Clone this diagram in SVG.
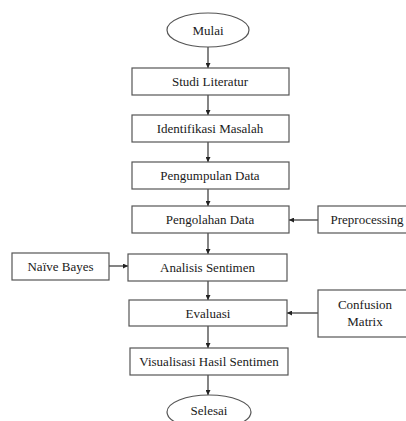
<svg xmlns="http://www.w3.org/2000/svg" width="406" height="421" viewBox="0 0 406 421">
<defs>
<marker id="ah" viewBox="0 0 10 10" refX="10" refY="5" markerWidth="5" markerHeight="5" orient="auto" markerUnits="userSpaceOnUse">
<path d="M0,0 L10,5 L0,10 z" fill="#222"/>
</marker>
<style>
.n{fill:#fff;stroke:#555;stroke-width:1.2}
.t{font-size:13px;fill:#1a1a1a;text-anchor:middle;dominant-baseline:central}
.c{stroke:#333;stroke-width:1.2;fill:none;marker-end:url(#ah)}
</style>
</defs>
<rect width="406" height="421" fill="#fff"/>
<g id="connectors">
<line class="c" x1="208" y1="47" x2="208" y2="68"/>
<line class="c" x1="208" y1="95" x2="208" y2="115"/>
<line class="c" x1="208" y1="142" x2="208" y2="162"/>
<line class="c" x1="208" y1="189" x2="208" y2="206"/>
<line class="c" x1="208" y1="233" x2="208" y2="254"/>
<line class="c" x1="208" y1="281" x2="208" y2="300"/>
<line class="c" x1="208" y1="326" x2="208" y2="348"/>
<line class="c" x1="208" y1="375" x2="208" y2="395"/>
<line class="c" x1="318" y1="220" x2="289" y2="220"/>
<line class="c" x1="109" y1="266" x2="128" y2="266"/>
<line class="c" x1="318" y1="313" x2="287" y2="313"/>
</g>
<g font-family="Liberation Serif, DejaVu Serif, serif">
<g id="mulai"><ellipse class="n" cx="208" cy="30" rx="41" ry="17"/><text class="t" x="208" y="30">Mulai</text></g>
<g id="studi"><rect class="n" x="132" y="68" width="157" height="27"/><text class="t" x="210" y="81.5">Studi Literatur</text></g>
<g id="identifikasi"><rect class="n" x="132" y="115" width="157" height="27"/><text class="t" x="210" y="128.5">Identifikasi Masalah</text></g>
<g id="pengumpulan"><rect class="n" x="132" y="162" width="157" height="27"/><text class="t" x="210" y="175.5">Pengumpulan Data</text></g>
<g id="pengolahan"><rect class="n" x="132" y="206" width="157" height="27"/><text class="t" x="210" y="219.5">Pengolahan Data</text></g>
<g id="preprocessing"><rect class="n" x="318" y="206" width="98" height="27"/><text class="t" x="367" y="219.5">Preprocessing</text></g>
<g id="naivebayes"><rect class="n" x="12" y="253" width="97" height="27"/><text class="t" x="60.5" y="266.5">Naïve Bayes</text></g>
<g id="analisis"><rect class="n" x="128" y="254" width="159" height="27"/><text class="t" x="207.5" y="267.5">Analisis Sentimen</text></g>
<g id="evaluasi"><rect class="n" x="129" y="300" width="158" height="26"/><text class="t" x="208" y="313">Evaluasi</text></g>
<g id="confusion"><rect class="n" x="318" y="290" width="98" height="47"/><text class="t" x="365" y="304">Confusion</text><text class="t" x="365" y="321">Matrix</text></g>
<g id="visualisasi"><rect class="n" x="130" y="348" width="158" height="27"/><text class="t" x="209" y="361.5">Visualisasi Hasil Sentimen</text></g>
<g id="selesai"><ellipse class="n" cx="209" cy="412" rx="42" ry="17"/><text class="t" x="209" y="410">Selesai</text></g>
</g>
</svg>
